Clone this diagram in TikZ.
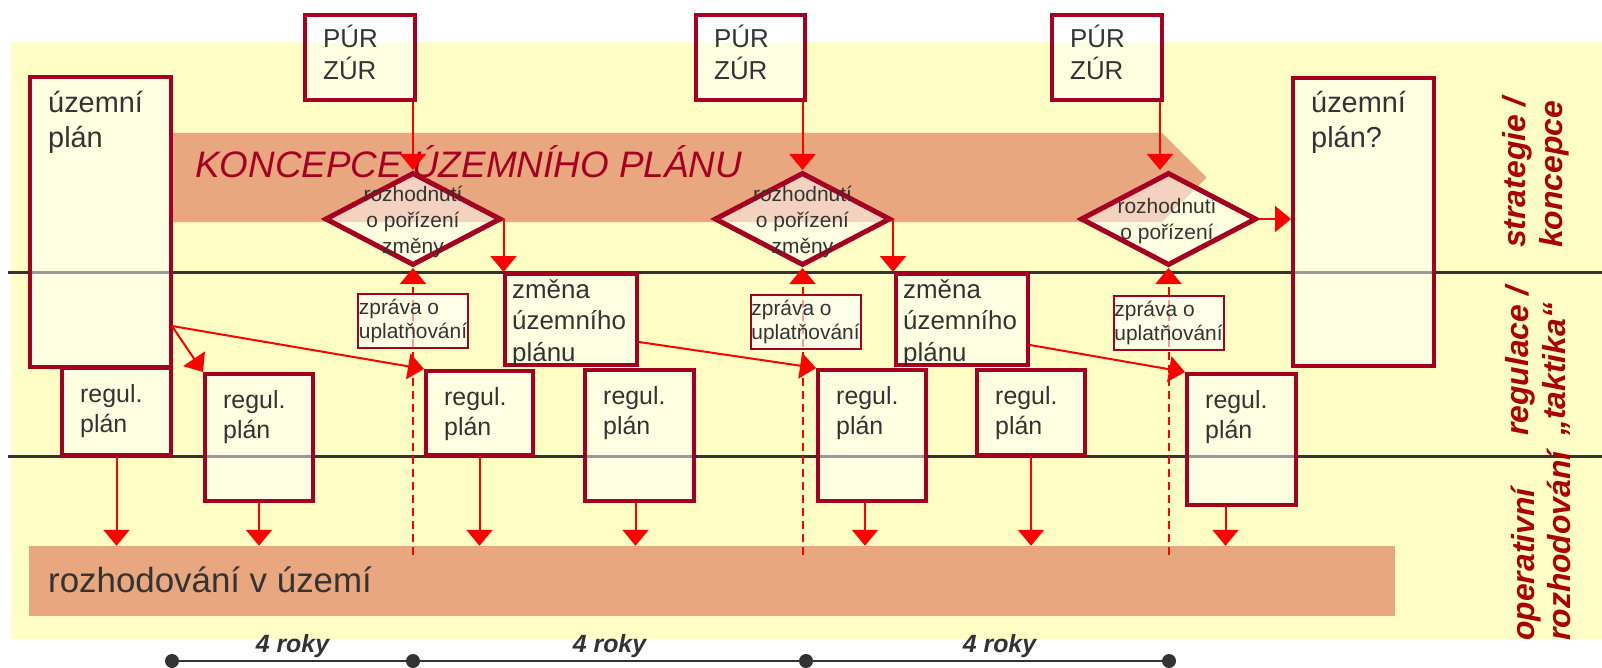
\documentclass[tikz,border=0pt]{standalone}
\usepackage{fontspec}
\setmainfont{Liberation Sans}
\usetikzlibrary{arrows.meta,shapes.geometric,calc}
\definecolor{bgyel}{HTML}{FFFFC5}
\definecolor{salmon}{HTML}{E8A77F}
\definecolor{boxred}{HTML}{A50021}
\definecolor{txtgray}{HTML}{333333}
\definecolor{labred}{HTML}{AA0000}
\definecolor{arrred}{HTML}{FF0000}
\newcommand\mlines[1]{\vtop{\halign{##\hfil\cr#1\crcr}}}
\newcommand\fsz[2]{\fontsize{#1}{#2}\selectfont}
\begin{document}
\begin{tikzpicture}[x=1bp,y=-1bp,
  box/.style={rectangle, draw=boxred, line width=4bp, fill=white, fill opacity=0.5, text opacity=1, inner sep=0},
  dia/.style={diamond, draw=boxred, line width=5bp, fill=white, fill opacity=0.5, text opacity=1, inner sep=0, minimum width=176bp, minimum height=93bp},
  zp/.style={rectangle, draw=boxred, line width=2bp, fill=white, fill opacity=0.6, text opacity=1, inner sep=0, minimum width=110bp, minimum height=54bp, font=\fsz{21}{25}, text=txtgray, align=left},
  txt/.style={inner sep=0, text=txtgray, anchor=base west},
  dtxt/.style={inner sep=0, text=txtgray, align=center, font=\fsz{21}{26}},
  arr/.style={draw=arrred, line width=2bp, -{Triangle[length=16bp,width=26bp]}},
  dasharr/.style={arr, dash pattern=on 8bp off 5bp},
  sepline/.style={draw=txtgray, line width=3bp},
  dot/.style={circle, fill=txtgray, minimum size=14bp, inner sep=0},
  tline/.style={draw=txtgray, line width=2.5bp},
  roky/.style={anchor=base, inner sep=0, font=\fsz{25}{30}\bfseries\itshape, text=txtgray},
  side/.style={rotate=90, anchor=west, inner sep=0, font=\fsz{32}{37}\bfseries\itshape, text=labred, align=left}
]
\useasboundingbox (0,0) rectangle (1602,668);
% background
\fill[bgyel] (11,42) rectangle (1602,639);
\coordinate (s1a) at (8,272); \coordinate (s1b) at (1602,272);
\coordinate (s2a) at (8,456); \coordinate (s2b) at (1602,456);
\draw[sepline] (s1a) -- (s1b);
\draw[sepline] (s2a) -- (s2b);
% concept band
\fill[salmon] (172,133) -- (1162,133) -- (1206.5,177.5) -- (1162,222) -- (172,222) -- cycle;
\node[txt, font=\fsz{37}{44}\itshape, text=boxred] (kon) at (195,177) {KONCEPCE ÚZEMNÍHO PLÁNU};
% decision band
\node[fill=salmon, minimum width=1366bp, minimum height=70bp, inner sep=0] (band) at (712,581) {};
\node[txt, font=\fsz{35}{42}] (rozh) at (48,592) {rozhodování v území};
% boxes
\node[box, minimum width=109bp, minimum height=87bp] (r1) at (116.5,411.5) {};
\node[box, minimum width=108bp, minimum height=127bp] (r2) at (259,437.5) {};
\node[box, minimum width=107bp, minimum height=84bp] (r3) at (479.5,413) {};
\node[box, minimum width=109bp, minimum height=131bp] (r4) at (639.5,435.5) {};
\node[box, minimum width=108bp, minimum height=131bp] (r5) at (872,435.5) {};
\node[box, minimum width=108bp, minimum height=85bp] (r6) at (1031,412.5) {};
\node[box, minimum width=109bp, minimum height=131bp] (r7) at (1241.5,439.5) {};
\node[box, minimum width=141bp, minimum height=290bp] (up1) at (100.5,222) {};
\node[box, minimum width=141bp, minimum height=288bp] (up2) at (1363.5,222) {};
\node[box, minimum width=132bp, minimum height=91bp] (z1) at (571,319.5) {};
\node[box, minimum width=132bp, minimum height=91bp] (z2) at (962,319.5) {};
\node[box, minimum width=110bp, minimum height=85bp] (pur1) at (360,57.5) {};
\node[box, minimum width=109bp, minimum height=85bp] (pur2) at (750.5,57.5) {};
\node[box, minimum width=110bp, minimum height=85bp] (pur3) at (1107,57.5) {};
% diamonds
\node[dia] (d1) at (413,219) {};
\node[dia] (d2) at (802.5,219) {};
\node[dia] (d3) at (1168.5,219) {};
% dashed report arrows
\coordinate (db1) at (413,555);
\coordinate (db2) at (802.5,555);
\coordinate (db3) at (1168.5,555);
\draw[dasharr] (db1) -- (d1.south);
\draw[dasharr] (db2) -- (d2.south);
\draw[dasharr] (db3) -- (d3.south);
% report boxes
\node[zp] (zp1) at (413,321) {zpráva o\\uplatňování};
\node[zp] (zp2) at (805.5,322) {zpráva o\\uplatňování};
\node[zp] (zp3) at (1168.5,323) {zpráva o\\uplatňování};
% box texts
\node[txt, font=\fsz{29}{35}] (up1t) at ($(up1.north west)+(20,38)$) {\mlines{územní\cr plán}};
\node[txt, font=\fsz{29}{35}] (up2t) at ($(up2.north west)+(20,37)$) {\mlines{územní\cr plán?}};
\node[txt, font=\fsz{26}{32}] (pur1t) at ($(pur1.north west)+(20,35)$) {\mlines{PÚR\cr ZÚR}};
\node[txt, font=\fsz{26}{32}] (pur2t) at ($(pur2.north west)+(20,35)$) {\mlines{PÚR\cr ZÚR}};
\node[txt, font=\fsz{26}{32}] (pur3t) at ($(pur3.north west)+(20,35)$) {\mlines{PÚR\cr ZÚR}};
\node[txt, font=\fsz{26}{32}] (z1t) at ($(z1.north west)+(9,26)$) {\mlines{změna\cr územního\cr plánu}};
\node[txt, font=\fsz{26}{32}] (z2t) at ($(z2.north west)+(9,26)$) {\mlines{změna\cr územního\cr plánu}};
\foreach \r in {r1,r2,r3,r4,r5,r6,r7}
  \node[txt, font=\fsz{25}{31}] (\r t) at ($(\r.north west)+(20,36)$) {\mlines{regul.\cr plán}};
\node[dtxt] (d1t) at (413,222) {rozhodnutí\\o pořízení\\změny};
\node[dtxt] (d2t) at (802.5,222) {rozhodnutí\\o pořízení\\změny};
\node[dtxt] (d3t) at (1167,221) {rozhodnutí\\o pořízení};
% arrows from PUR/ZUR
\draw[arr] (d1.north |- pur1.south) -- (d1.north);
\draw[arr] (d2.north |- pur2.south) -- (d2.north);
\path ([xshift=-4bp]pur3.south east) coordinate (p3o);
\draw[arr] (p3o) -- (p3o |- d3.north);
% decisions to changes / new plan
\draw[arr] (d1.east) -- (d1.east |- z1.north);
\draw[arr] (d2.east) -- (d2.east |- z2.north);
\draw[arr] (d3.east) -- (d3.east -| up2.west);
% plans to regulation plans
\coordinate (a0) at (172,326);
\coordinate (a1) at (639,342);
\coordinate (a2) at (1030,345);
\draw[arr] (a0) -- (r2.north west);
\draw[arr] (a0) -- (r3.north west);
\draw[arr] (a1) -- (r5.north west);
\draw[arr] (a2) -- (r7.north west);
% regulation plans to decisions
\draw[arr] (r1.south) -- (r1.south |- band.north);
\draw[arr] (r2.south) -- (r2.south |- band.north);
\draw[arr] (r3.south) -- (r3.south |- band.north);
\path ([xshift=-4bp]r4.south) coordinate (r4o);
\draw[arr] (r4o) -- (r4o |- band.north);
\path ([xshift=-7bp]r5.south) coordinate (r5o);
\draw[arr] (r5o) -- (r5o |- band.north);
\draw[arr] (r6.south) -- (r6.south |- band.north);
\path ([xshift=-16bp]r7.south) coordinate (r7o);
\draw[arr] (r7o) -- (r7o |- band.north);
% side labels
\node[side] (lab1) at (1536,248) {strategie /\\koncepce};
\node[side] (lab2) at (1538,436) {regulace /\\„taktika“};
\node[side] (lab3) at (1541,641) {operativní\\rozhodování};
% timeline
\node[dot] (t0) at (172,661) {};
\node[dot] (t1) at (413,661) {};
\node[dot] (t2) at (806,661) {};
\node[dot] (t3) at (1169,661) {};
\draw[tline] (t0) -- (t1) -- (t2) -- (t3);
\node[roky] (y1) at ($(t0)!0.5!(t1)+(0,-9)$) {4 roky};
\node[roky] (y2) at ($(t1)!0.5!(t2)+(0,-9)$) {4 roky};
\node[roky] (y3) at ($(t2)!0.5!(t3)+(12,-9)$) {4 roky};
\end{tikzpicture}
\end{document}
